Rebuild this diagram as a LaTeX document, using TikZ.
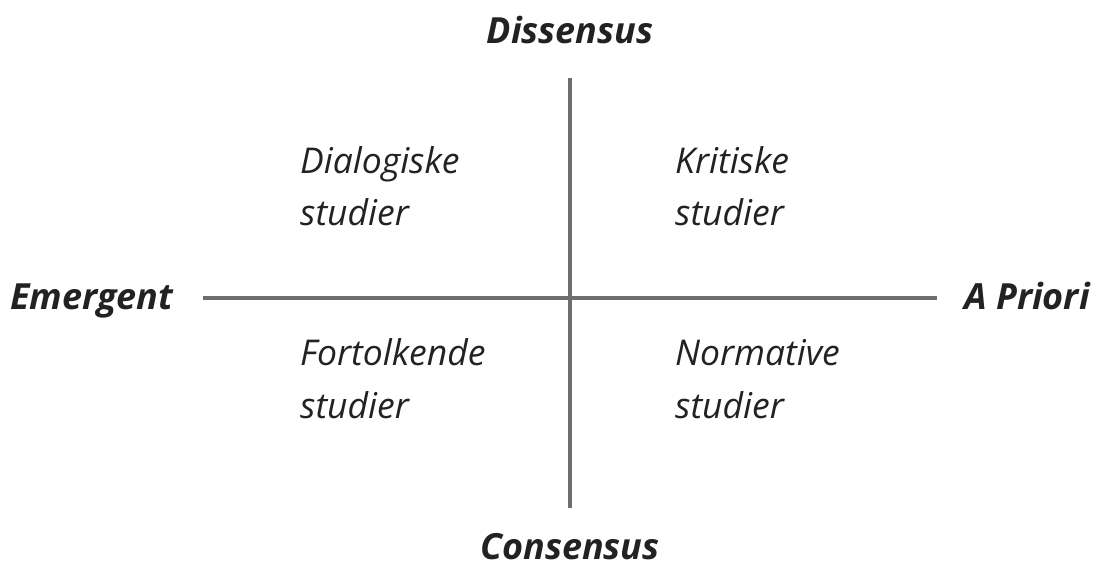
\documentclass[tikz,border=0pt]{standalone}
\usepackage{fontspec}
\setmainfont{Open Sans}
\begin{document}
\begin{tikzpicture}[x=1pt,y=1pt,
  axis/.style={draw=axisgray,line width=4.5pt},
  quad/.style={anchor=base west,inner sep=0pt,text=textdark,font=\fontsize{35.5}{40}\selectfont\itshape},
  pole/.style={inner sep=0pt,text=textdark,font=\fontsize{36}{40}\selectfont\bfseries\itshape}]
\definecolor{axisgray}{HTML}{6E6E6E}
\definecolor{textdark}{HTML}{222222}
\useasboundingbox (0,0) rectangle (1096,568);
\coordinate (top) at (570,490);
\coordinate (bot) at (570,60);
\coordinate (lft) at (203,270);
\coordinate (rgt) at (937,270);
\draw[axis] (top) -- (bot);
\draw[axis] (lft) -- (rgt);
\node[pole,anchor=base] (dis) at (570,524) {Dissensus};
\node[pole,anchor=base] (con) at (570,9) {Consensus};
\node[pole,anchor=base west] (eme) at (10,258) {Emergent};
\node[pole,anchor=base east] (apr) at (1090,258) {A Priori};
\node[quad] (d1) at (300,394) {Dialogiske};
\node[quad] (d2) at (300,342) {studier};
\node[quad] (k1) at (675,394) {Kritiske};
\node[quad] (k2) at (675,342) {studier};
\node[quad] (f1) at (300,202) {Fortolkende};
\node[quad] (f2) at (300,149) {studier};
\node[quad] (n1) at (675,202) {Normative};
\node[quad] (n2) at (675,149) {studier};
\end{tikzpicture}
\end{document}
